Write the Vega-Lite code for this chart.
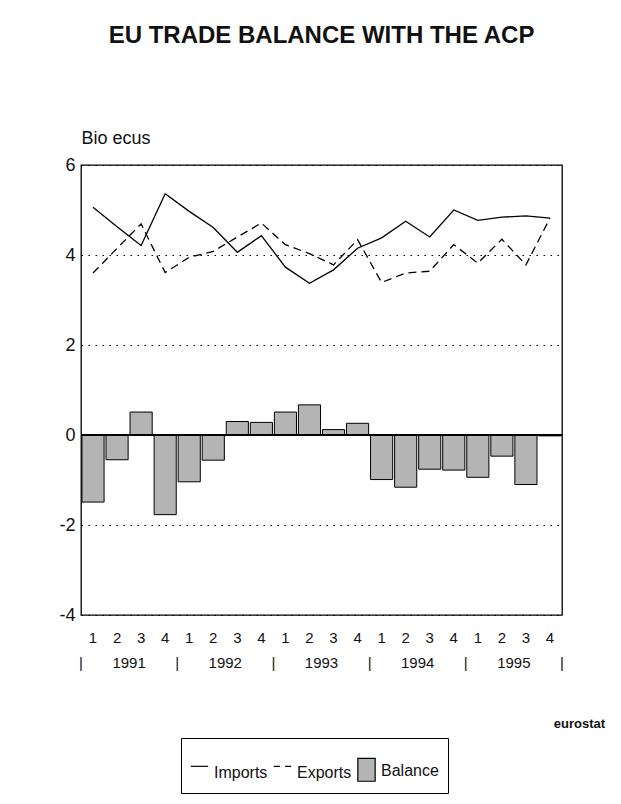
{
  "$schema": "https://vega.github.io/schema/vega-lite/v6.json",
  "width": 481,
  "height": 450,
  "autosize": {"type": "none"},
  "padding": {"left": 81, "top": 165, "right": 59, "bottom": 189},
  "background": "white",
  "title": {
    "text": "EU TRADE BALANCE WITH THE ACP",
    "font": "Liberation Sans, Arial, sans-serif",
    "fontSize": 24,
    "fontWeight": "bold",
    "color": "#111111",
    "anchor": "middle",
    "frame": "group",
    "baseline": "alphabetic",
    "offset": 62
  },
  "data": {
    "values": [
      {"q": "1991-1", "imports": 5.06, "exports": 3.60, "balance": -1.49},
      {"q": "1991-2", "imports": 4.63, "exports": 4.15, "balance": -0.55},
      {"q": "1991-3", "imports": 4.21, "exports": 4.69, "balance": 0.51},
      {"q": "1991-4", "imports": 5.36, "exports": 3.61, "balance": -1.77},
      {"q": "1992-1", "imports": 4.97, "exports": 3.95, "balance": -1.04},
      {"q": "1992-2", "imports": 4.61, "exports": 4.08, "balance": -0.56},
      {"q": "1992-3", "imports": 4.06, "exports": 4.40, "balance": 0.30},
      {"q": "1992-4", "imports": 4.43, "exports": 4.71, "balance": 0.28},
      {"q": "1993-1", "imports": 3.73, "exports": 4.23, "balance": 0.51},
      {"q": "1993-2", "imports": 3.37, "exports": 4.03, "balance": 0.67},
      {"q": "1993-3", "imports": 3.67, "exports": 3.78, "balance": 0.12},
      {"q": "1993-4", "imports": 4.15, "exports": 4.34, "balance": 0.26},
      {"q": "1994-1", "imports": 4.38, "exports": 3.39, "balance": -0.99},
      {"q": "1994-2", "imports": 4.75, "exports": 3.60, "balance": -1.16},
      {"q": "1994-3", "imports": 4.40, "exports": 3.64, "balance": -0.76},
      {"q": "1994-4", "imports": 5.00, "exports": 4.23, "balance": -0.78},
      {"q": "1995-1", "imports": 4.77, "exports": 3.82, "balance": -0.94},
      {"q": "1995-2", "imports": 4.84, "exports": 4.35, "balance": -0.47},
      {"q": "1995-3", "imports": 4.87, "exports": 3.78, "balance": -1.10},
      {"q": "1995-4", "imports": 4.82, "exports": 4.82, "balance": -0.02}
    ]
  },
  "resolve": {"axis": {"x": "independent"}},
  "layer": [
    {
      "mark": {"type": "bar", "fill": "#b4b4b4", "stroke": "black", "strokeWidth": 1},
      "encoding": {
        "x": {
          "field": "q",
          "type": "ordinal",
          "scale": {"paddingInner": 0.08, "paddingOuter": 0.04},
          "axis": {
            "orient": "bottom",
            "title": null,
            "labelExpr": "split(datum.value, '-')[1]",
            "labelPadding": 22
          }
        },
        "y": {
          "field": "balance",
          "type": "quantitative",
          "scale": {"domain": [-4, 6], "nice": false},
          "axis": {
            "title": "Bio ecus",
            "titleAngle": 0,
            "titleAlign": "left",
            "titleBaseline": "alphabetic",
            "titleX": 0,
            "titleY": -22,
            "titleFont": "Liberation Sans, Arial, sans-serif",
            "titleFontSize": 18,
            "titleFontWeight": "normal",
            "titleColor": "#111111",
            "values": [-4, -2, 0, 2, 4, 6],
            "labelExpr": "datum.value < 0 ? '-' + abs(datum.value) : '' + datum.value"
          }
        }
      }
    },
    {
      "mark": {"type": "rule", "color": "black", "strokeWidth": 2},
      "encoding": {"y": {"datum": 0}}
    },
    {
      "mark": {"type": "line", "color": "black", "strokeWidth": 1.3},
      "encoding": {
        "x": {
          "field": "q",
          "type": "ordinal",
          "axis": {
            "orient": "bottom",
            "title": null,
            "labelExpr": "split(datum.value, '-')[1] == '2' ? split(datum.value, '-')[0] : ''",
            "labelOffset": 12,
            "labelPadding": 47
          }
        },
        "y": {"field": "imports", "type": "quantitative"}
      }
    },
    {
      "mark": {"type": "line", "color": "black", "strokeWidth": 1.3, "strokeDash": [8, 5]},
      "encoding": {
        "x": {
          "field": "q",
          "type": "ordinal",
          "axis": {
            "orient": "bottom",
            "values": ["1991-1", "1992-1", "1993-1", "1994-1", "1995-1", "1995-4"],
            "labelExpr": "'|'",
            "labelOffset": {"condition": {"test": "datum.value == '1995-4'", "value": 12}, "value": -12},
            "labelPadding": 47,
            "title": "eurostat",
            "titleX": 498,
            "titleY": 108,
            "titleAlign": "center",
            "titleBaseline": "middle",
            "titleFont": "Liberation Sans, Arial, sans-serif",
            "titleFontSize": 13,
            "titleFontWeight": "bold",
            "titleColor": "#111111"
          }
        },
        "y": {"field": "exports", "type": "quantitative"}
      }
    },
    {
      "transform": [{"fold": ["imports", "exports", "balance"], "as": ["series", "value"]}],
      "mark": {"type": "point", "filled": true, "opacity": 0, "strokeWidth": 1.2},
      "encoding": {
        "x": {"field": "q", "type": "ordinal", "axis": null},
        "y": {"field": "value", "type": "quantitative"},
        "shape": {
          "field": "series",
          "type": "nominal",
          "scale": {
            "domain": ["imports", "exports", "balance"],
            "range": ["M-1,-0.8H1", "M-1,-0.8H-0.3M0.3,-0.8H1", "M-1,-1.45H1V1.2H-1Z"]
          },
          "legend": {
            "title": " ",
            "titleFontSize": 10,
            "titlePadding": 4,
            "orient": "none",
            "legendX": 100,
            "legendY": 573,
            "direction": "horizontal",
            "strokeColor": "black",
            "padding": 9,
            "symbolSize": 300,
            "symbolStrokeWidth": 1.2,
            "symbolOpacity": 1,
            "labelExpr": "upper(substring(datum.label, 0, 1)) + substring(datum.label, 1)",
            "labelFont": "Liberation Sans, Arial, sans-serif",
            "labelFontSize": 16,
            "labelColor": "#111111",
            "labelOffset": 5,
            "columnPadding": 3
          }
        },
        "fill": {
          "field": "series",
          "type": "nominal",
          "scale": {
            "domain": ["imports", "exports", "balance"],
            "range": ["transparent", "transparent", "#b4b4b4"]
          }
        },
        "stroke": {
          "field": "series",
          "type": "nominal",
          "scale": {
            "domain": ["imports", "exports", "balance"],
            "range": ["black", "black", "black"]
          }
        }
      }
    }
  ],
  "config": {
    "view": {"stroke": "black", "strokeWidth": 1.3},
    "axisX": {
      "domain": false,
      "ticks": false,
      "tickSize": 0,
      "grid": false,
      "labelAngle": 0,
      "labelBaseline": "middle",
      "labelOverlap": false,
      "labelFont": "Liberation Sans, Arial, sans-serif",
      "labelFontSize": 15,
      "labelColor": "#111111"
    },
    "axisY": {
      "domain": false,
      "ticks": false,
      "tickSize": 0,
      "labelPadding": 6,
      "labelFont": "Liberation Sans, Arial, sans-serif",
      "labelFontSize": 18,
      "labelColor": "#111111",
      "grid": true,
      "gridColor": "black",
      "gridDash": [1.5, 5.5],
      "gridWidth": 1.2
    }
  }
}
